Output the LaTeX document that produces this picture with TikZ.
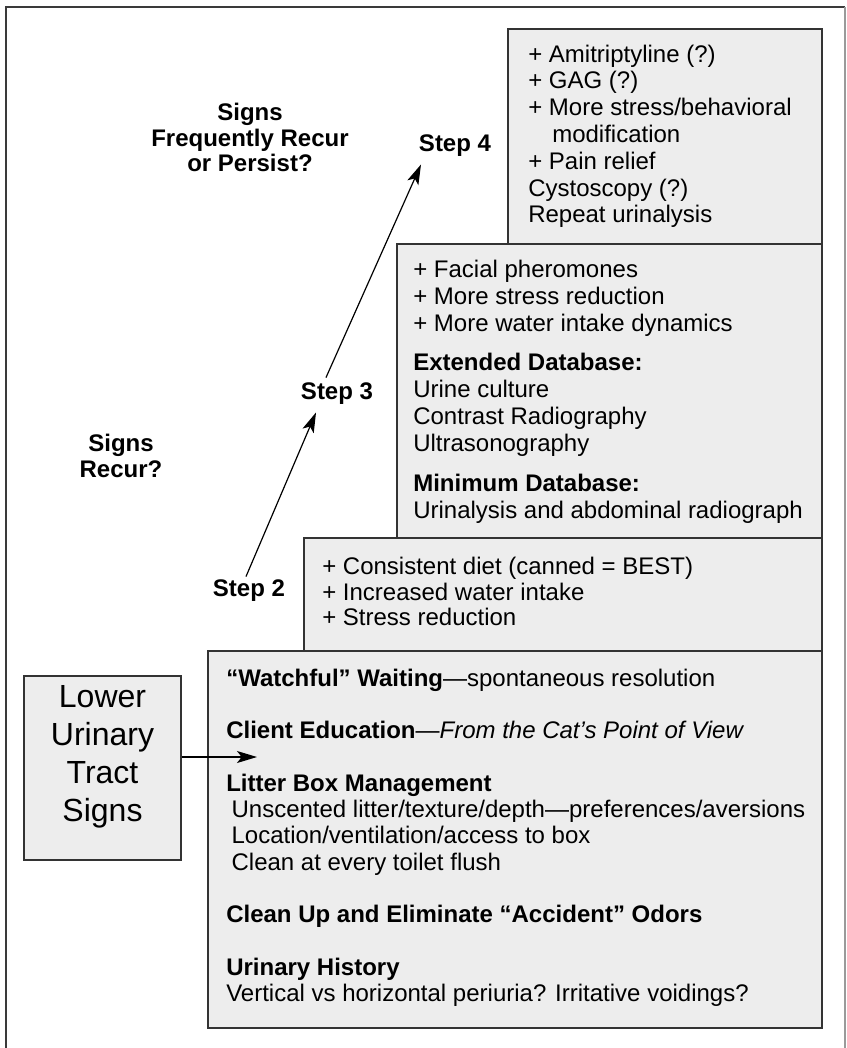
\documentclass[tikz,border=0pt]{standalone}
\usepackage{fontspec}
\setmainfont{Liberation Sans}
\usetikzlibrary{arrows.meta,fit,calc}
\definecolor{boxfill}{HTML}{EDEDED}
\definecolor{boxline}{HTML}{333333}
\definecolor{framedark}{HTML}{3A3A3A}
\definecolor{framelight}{HTML}{9A9A9A}
\begin{document}
\begin{tikzpicture}[x=0.75pt,y=-0.75pt,
  box/.style={draw=boxline, fill=boxfill, line width=1.1pt, inner sep=0pt},
  txt/.style={anchor=base west, align=left, inner sep=0pt},
  lbl/.style={align=center, inner sep=1pt, font=\fontsize{18}{19.1}\selectfont\bfseries},
  arr/.style={-{Stealth[length=15pt,width=9pt,inset=3.5pt]}, line width=0.9pt, draw=black}]
\useasboundingbox (0,0) rectangle (846,1048);
% outer frame
\draw[draw=framedark, line width=1.2pt] (6,1048) -- (6,7) -- (845,7);
\draw[draw=framelight, line width=0.8pt] (845,7) -- (845,1048);
% step boxes
\node[box, fit={(508,29)(822,244)}] (b4) {};
\node[box, fit={(397,244)(822,538)}] (b3) {};
\node[box, fit={(304,538)(822,651)}] (b2) {};
\node[box, fit={(208,651)(822,1028)}] (b1) {};
% box texts (anchored at the baseline of the last line)
\node[txt, font=\fontsize{18}{20.1}\selectfont] (t4) at (528,223)
  {+ Amitriptyline (?)\\+ GAG (?)\\+ More stress/behavioral\\\hspace*{18pt}modification\\+ Pain relief\\Cystoscopy (?)\\Repeat urinalysis};
\node[txt, font=\fontsize{18}{20.25}\selectfont] (t3) at (413,518)
  {+ Facial pheromones\\+ More stress reduction\\+ More water intake dynamics\\[9pt]\textbf{Extended Database:}\\Urine culture\\Contrast Radiography\\Ultrasonography\\[9.5pt]\textbf{Minimum Database:}\\Urinalysis and abdominal radiograph};
\node[txt, font=\fontsize{18}{19.1}\selectfont] (t2) at (322,625.5)
  {+ Consistent diet (canned = BEST)\\+ Increased water intake\\+ Stress reduction};
\node[txt, font=\fontsize{18}{19.7}\selectfont] (t1) at (226,1001.5)
  {\textbf{“Watchful” Waiting}—spontaneous resolution\\[19.7pt]
   \textbf{Client Education}—\textit{From the Cat’s Point of View}\\[19.7pt]
   \textbf{Litter Box Management}\\
   \hspace*{4pt}Unscented litter/texture/depth—preferences/aversions\\
   \hspace*{4pt}Location/ventilation/access to box\\
   \hspace*{4pt}Clean at every toilet flush\\[19.7pt]
   \textbf{Clean Up and Eliminate “Accident” Odors}\\[19.7pt]
   \textbf{Urinary History}\\
   Vertical vs horizontal periuria? Irritative voidings?};
% start box
\node[box, fit={(24,676)(181,860)}, align=center, font=\fontsize{24}{28.5}\selectfont] (luts) {Lower\\Urinary\\Tract\\Signs};
\coordinate (luttip) at (257,757);
\draw[arr] (luts.east |- luttip) -- (luttip);
% questions and steps
\node[lbl] (q2) at (250,137.5) {Signs\\Frequently Recur\\or Persist?};
\node[lbl] (q1) at (121,456) {Signs\\Recur?};
\node[lbl] (s2) at (249,591) {Step 2};
\node[lbl] (s3) at (337,394) {Step 3};
\node[lbl] (s4) at (455,146) {Step 4};
\draw[arr] ($(s2.north)+(-3,-2)$) -- ($(s3.south)+(-21,6)$);
\draw[arr] ($(s3.north)+(-11,-4)$) -- ($(s4.south)+(-34,6)$);
\end{tikzpicture}
\end{document}
